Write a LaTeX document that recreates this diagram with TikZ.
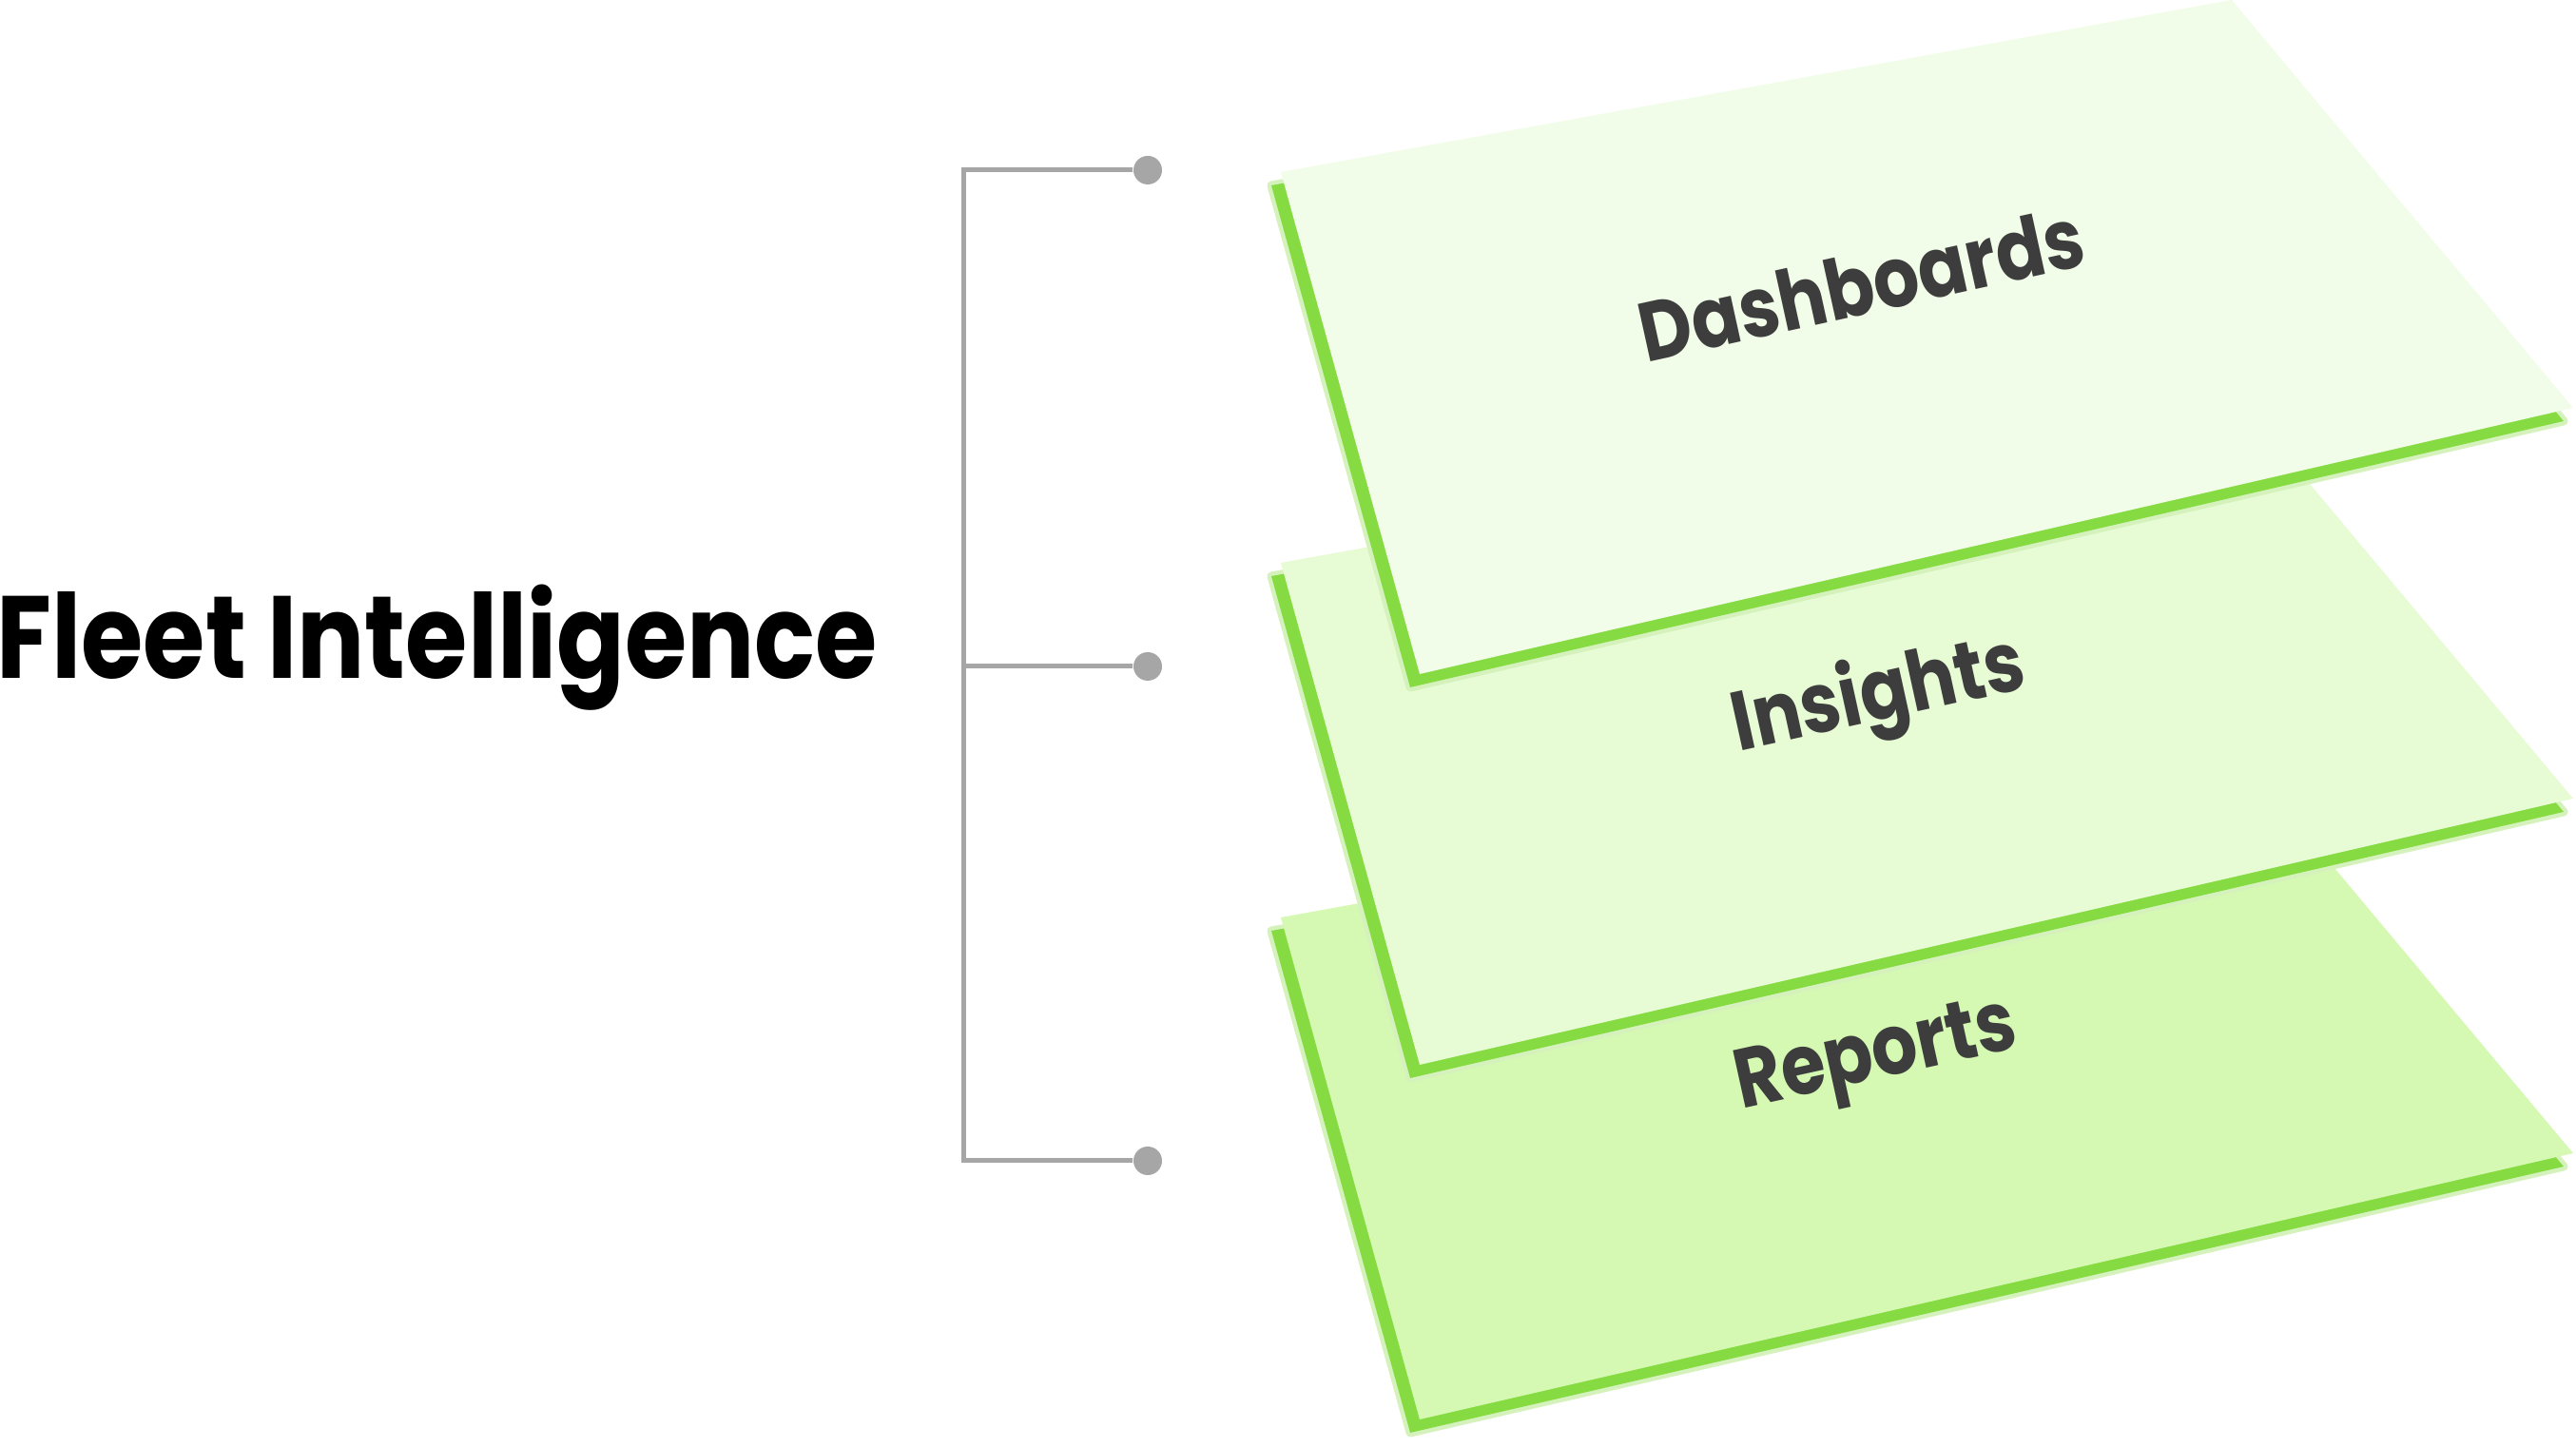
\documentclass[tikz,border=0pt]{standalone}
\usepackage{fontspec}
\setmainfont{Poppins}[FakeStretch=0.86]
\usetikzlibrary{positioning,calc}
\definecolor{edgegreen}{RGB}{135,219,66}
\definecolor{sheetA}{RGB}{241,253,233}
\definecolor{sheetB}{RGB}{231,252,213}
\definecolor{sheetC}{RGB}{213,249,178}
\definecolor{inkgray}{RGB}{61,61,61}
\definecolor{linegray}{RGB}{166,166,166}
\newcommand{\drawsheet}[2]{%
  \begin{scope}[yshift=#1cm]
    \fill[edgegreen!35,draw=edgegreen!35,line width=0.09cm,line join=round] (13.37,-0.14) -- (23.37,1.67) -- (26.96,-2.62) -- (14.83,-5.42) -- cycle;
    \fill[edgegreen] (13.37,-0.14) -- (23.37,1.67) -- (26.96,-2.62) -- (14.83,-5.42) -- cycle;
    \fill[#2] (13.47,0) -- (23.47,1.81) -- (27.06,-2.48) -- (14.93,-5.28) -- cycle;
  \end{scope}}

\begin{document}
\begin{tikzpicture}[dot/.style={circle,fill=linegray,inner sep=0pt,minimum size=0.3cm},
  bracket/.style={linegray,line width=0.05cm},
  sheetlabel/.style={font=\fontsize{25}{25}\selectfont\bfseries,text=inkgray,rotate=12.4,anchor=base,inner sep=0pt}]
\useasboundingbox (0,0) rectangle (27.09,15.22);
\drawsheet{5.57}{sheetC}
\drawsheet{9.30}{sheetB}
\drawsheet{13.41}{sheetA}
\node[sheetlabel] (dash) at (19.64,11.92) {Dashboards};
\node[sheetlabel] (ins) at (19.81,7.65) {Insights};
\node[sheetlabel] (rep) at (19.78,3.88) {Reports};
\node[font=\fontsize{35}{35}\selectfont\bfseries,anchor=base west,inner sep=0pt] (fleet) at (-0.04,8.08) {Fleet Intelligence};
\node[dot] (d1) at (12.07,13.43) {};
\node[dot] (d2) at (12.07,8.21) {};
\node[dot] (d3) at (12.07,3.01) {};
\coordinate (bt) at (10.13,13.43);
\coordinate (bb) at (10.13,3.01);
\draw[bracket] (d1) -- (bt) -- (bb) -- (d3);
\draw[bracket] (d2) -- (bt |- d2);
\end{tikzpicture}
\end{document}
